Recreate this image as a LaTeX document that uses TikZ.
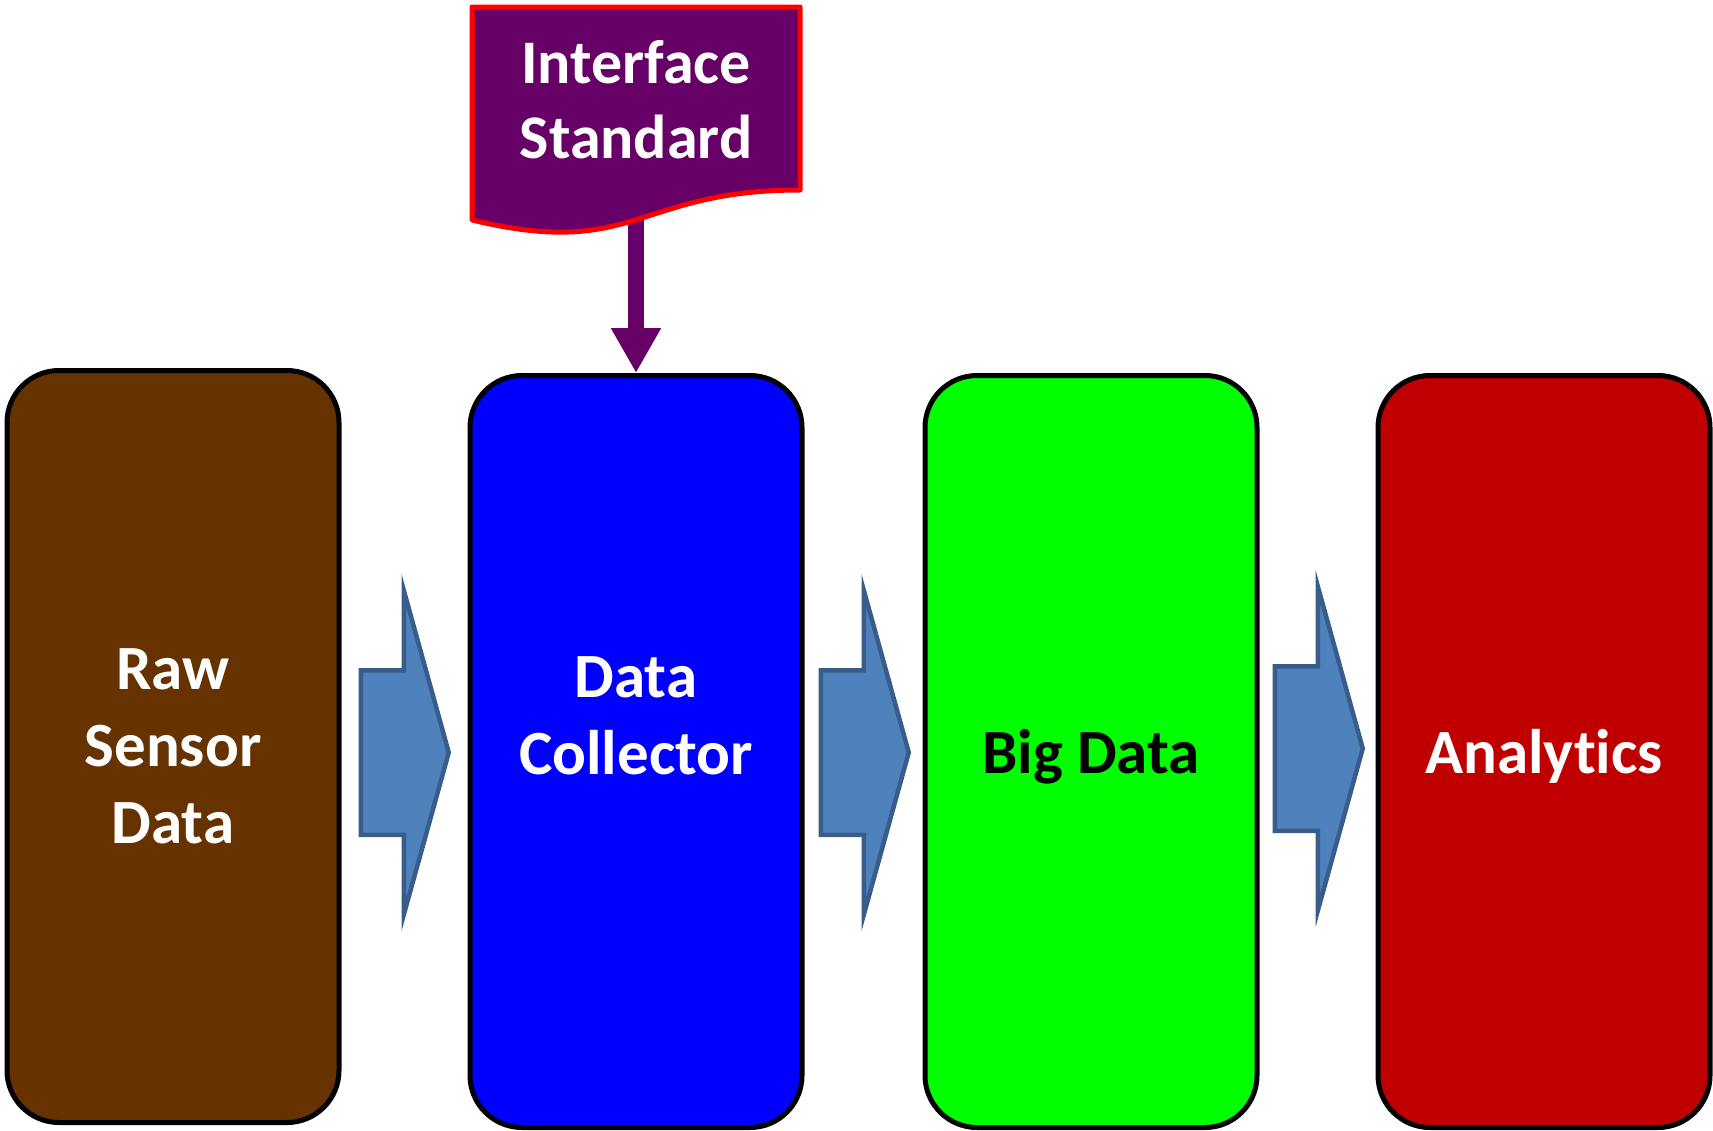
\documentclass[tikz,border=0pt]{standalone}
\usepackage{fontspec}
\setmainfont{Carlito}[Ligatures=NoCommon]
\usepackage{tikz}
\usetikzlibrary{shapes.arrows, arrows.meta, positioning, calc}
\definecolor{rawbrown}{HTML}{663300}
\definecolor{collblue}{HTML}{0000FF}
\definecolor{biggreen}{HTML}{00FF00}
\definecolor{anared}{HTML}{C00000}
\definecolor{stdpurple}{HTML}{660066}
\definecolor{stdred}{HTML}{FF0000}
\definecolor{flowfill}{HTML}{4F81BD}
\definecolor{flowedge}{HTML}{385D8A}
\tikzstyle{stage} = [rectangle, rounded corners=52pt, minimum width=332pt, minimum height=752pt, draw=black, line width=5pt, text=white, align=center, font=\bfseries\fontsize{63}{77}\selectfont]
\tikzstyle{stagetext} = [text=white, align=center, font=\bfseries\fontsize{63}{77}\selectfont]
\tikzstyle{flow} = [single arrow, draw=flowedge, fill=flowfill, line width=4.5pt, inner sep=0pt, text height=160pt, text depth=0pt, minimum height=88pt, single arrow head extend=80pt, single arrow tip angle=149, single arrow head indent=0pt, anchor=tail]
\tikzstyle{feed} = [draw=stdpurple, line width=16pt, -{Triangle[width=47pt, length=45pt]}]
\tikzstyle{doc} = [draw=stdred, fill=stdpurple, line width=5pt, line join=round]

\begin{document}
\begin{tikzpicture}[x=1pt, y=-1pt]
\useasboundingbox (0,0) rectangle (1713,1130);

\node (raw) [stage, fill=rawbrown] at (173,746.5) {Raw\\Sensor\\Data};
\node (collector) [stage, fill=collblue, right=126pt of raw, yshift=-5pt] {};
\node (bigdata) [stage, fill=biggreen, text=black, text depth=0pt, right=118pt of collector] {Big Data};
\node (analytics) [stage, fill=anared, text depth=0pt, right=116pt of bigdata] {Analytics};
\node (colltext) [stagetext] at ([yshift=36pt]collector.center) {Data\\Collector};

\node (flowa) [flow] at ($(raw.east |- collector.west)+(17,1)$) {};
\node (flowb) [flow] at ($(collector.east)+(14,1)$) {};
\node (flowc) [flow] at ($(bigdata.east)+(13,-3)$) {};

\coordinate (stdfoot) at (636,214);
\draw [feed] (stdfoot) -- (collector.north);
\draw [doc] (472,7) -- (800,7) -- (800,190) .. controls (636,190) and (636,259.5) .. (472,220) -- cycle;
\node (std) [stagetext, font=\bfseries\fontsize{62}{75}\selectfont] at (636,99.5) {Interface\\Standard};

\end{tikzpicture}
\end{document}
